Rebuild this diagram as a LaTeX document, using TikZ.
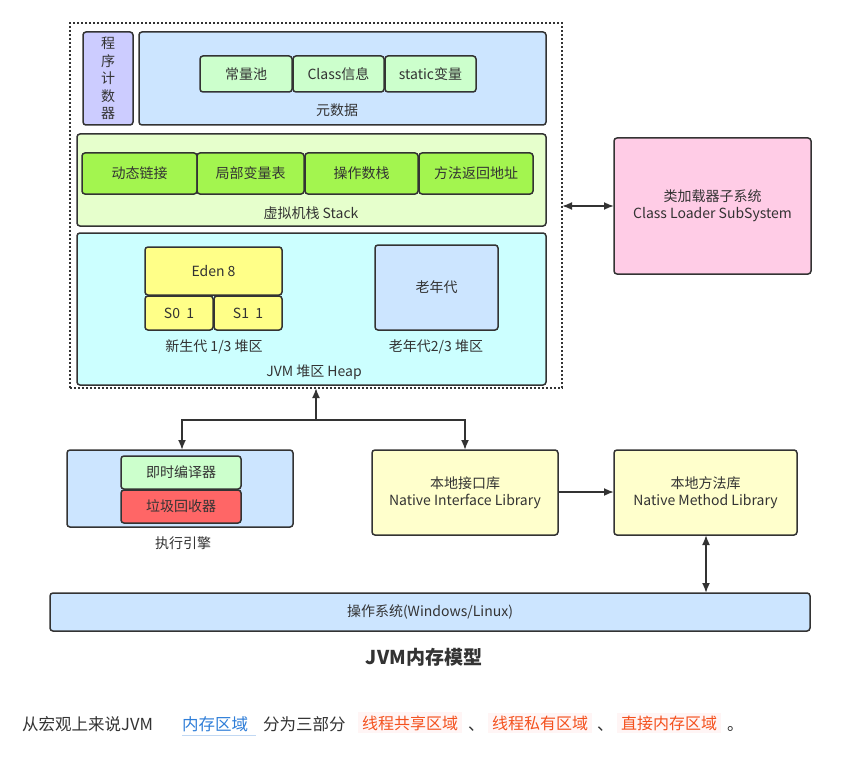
\documentclass[tikz,border=0pt]{standalone}
\usepackage{fontspec}
\setmainfont{Noto Sans CJK SC}
\usetikzlibrary{arrows.meta}
\definecolor{edge}{HTML}{333333}
\definecolor{lav}{HTML}{CCCCFF}
\definecolor{lblue}{HTML}{CCE5FF}
\definecolor{lgreen}{HTML}{CCFFCC}
\definecolor{sgreen}{HTML}{E6FFCC}
\definecolor{bgreen}{HTML}{A3F54F}
\definecolor{lcyan}{HTML}{CCFFFF}
\definecolor{yel}{HTML}{FFFF88}
\definecolor{lyel}{HTML}{FFFFCC}
\definecolor{pink}{HTML}{FFCCE6}
\definecolor{red}{HTML}{FF6666}
\definecolor{txt}{HTML}{333333}
\definecolor{linkblue}{HTML}{2F7ED8}
\definecolor{codered}{HTML}{F4511E}
\definecolor{codebg}{HTML}{FFF5F5}
\newcommand\mybox[7]{\node[boxstyle,#2,minimum width={#5-#3},minimum height={#6-#4}] (#1) at ({(#3+#5)/2},{(#4+#6)/2}) {#7};}
\tikzset{
  boxstyle/.style={draw=edge,line width=1.5pt,rounded corners=3pt,inner sep=0pt,outer sep=0pt,align=center,text=txt,font=\fontsize{14}{17}\selectfont},
  lbl/.style={text=txt,font=\fontsize{14}{17}\selectfont,inner sep=0pt,align=center},
  conn/.style={draw=edge,line width=1.8pt},
  tip/.style={-{Latex[length=10pt,width=8pt]}},
  dtip/.style={{Latex[length=10pt,width=8pt]}-{Latex[length=10pt,width=8pt]}},
  code/.style={fill=codebg,text=codered,inner xsep=4pt,inner ysep=3pt,font=\fontsize{16}{19}\selectfont},
}
\begin{document}
\begin{tikzpicture}[x=1pt,y=-1pt]
\useasboundingbox[fill=white] (0,0) rectangle (841,757);
% outer dashed
\node[draw=edge,line width=1.5pt,dash pattern=on 2pt off 2pt,minimum width=492pt,minimum height=365pt,inner sep=0pt,outer sep=0pt] (outer) at (316,205.5) {};
% program counter
\mybox{pc}{fill=lav,font=\fontsize{14}{17.5}\selectfont}{83}{32}{133}{125}{程\\序\\计\\数\\器}
% metadata
\mybox{meta}{fill=lblue}{139}{32}{546}{125}{}
\mybox{cp}{fill=lgreen}{200}{56}{292}{92}{常量池}
\mybox{ci}{fill=lgreen}{293}{56}{384}{92}{Class信息}
\mybox{sv}{fill=lgreen}{385}{56}{476}{92}{static变量}
\node[lbl] (metal) at (337,110) {元数据};
% stack
\mybox{stack}{fill=sgreen}{77}{134}{546}{226}{}
\mybox{s1}{fill=bgreen}{82}{153}{197}{194}{动态链接}
\mybox{s2}{fill=bgreen}{197}{153}{304}{194}{局部变量表}
\mybox{s3}{fill=bgreen}{305}{153}{418}{194}{操作数栈}
\mybox{s4}{fill=bgreen}{419}{153}{533}{194}{方法返回地址}
\node[lbl] (stackl) at (311,213) {虚拟机栈 Stack};
% heap
\mybox{heap}{fill=lcyan}{77}{233}{546}{385}{}
\mybox{eden}{fill=yel}{145}{247}{282}{295}{Eden 8}
\mybox{s0}{fill=yel}{145}{296}{213}{330}{S0\ \ 1}
\mybox{s1b}{fill=yel}{214}{296}{282}{330}{S1\ \ 1}
\node[lbl] (young) at (214,347) {新生代 1/3 堆区};
\mybox{old}{fill=lblue}{375}{245}{498}{330}{老年代}
\node[lbl] (oldl) at (436,347) {老年代2/3 堆区};
\node[lbl] (heapl) at (314,372) {JVM 堆区 Heap};
% class loader
\mybox{cl}{fill=pink}{614}{138}{811}{274}{类加载器子系统\\Class Loader SubSystem}
% execution engine
\mybox{exe}{fill=lblue}{67}{450}{293}{527}{}
\mybox{jit}{fill=lgreen}{121}{456}{241}{489}{即时编译器}
\mybox{gc}{fill=red}{121}{490}{241}{523}{垃圾回收器}
\node[lbl] (exel) at (183,543) {执行引擎};
% native
\mybox{nil}{fill=lyel}{372}{450}{558}{535}{本地接口库\\Native Interface Library}
\mybox{nml}{fill=lyel}{614}{450}{797}{535}{本地方法库\\Native Method Library}
% OS
\mybox{os}{fill=lblue}{50}{593}{810}{631}{操作系统(Windows/Linux)}
% title
\node[text=txt,font=\fontsize{19}{22}\selectfont\bfseries,inner sep=0pt] (title) at (424,657) {JVM内存模型};
% connectors
\coordinate (hub) at (316,420);
\draw[conn,dtip] (outer.east |- 0,206) -- (cl.west |- 0,206);
\draw[conn,tip] (hub) -- (outer.south -| hub);
\draw[conn,tip] (hub) -| (exe.north -| 182,0);
\draw[conn,tip] (hub) -| (nil.north -| 465,0);
\draw[conn,tip] (nil.east |- 0,492) -- (nml.west |- 0,492);
\draw[conn,dtip] (nml.south -| 706,0) -- (os.north -| 706,0);
% bottom text
\begin{scope}[every node/.style={inner sep=0pt,anchor=base west,font=\fontsize{16.5}{20}\selectfont}]
\node[text=txt] (t1) at (22,730) {从宏观上来说JVM};
\node[text=linkblue] (t2) at (182,730) {内存区域};
\draw[linkblue!30,line width=1pt] (t2.south west) ++(0,4) -- ++(74,0);
\node[text=txt] (t3) at (263,730) {分为三部分};
\node[code] (c1) at (358,729) {线程共享区域};
\node[text=txt] (t4) at (468,730) {、};
\node[code] (c2) at (488,729) {线程私有区域};
\node[text=txt] (t5) at (597,730) {、};
\node[code] (c3) at (617,729) {直接内存区域};
\node[text=txt] (t6) at (727,730) {。};
\end{scope}
\end{tikzpicture}
\end{document}
